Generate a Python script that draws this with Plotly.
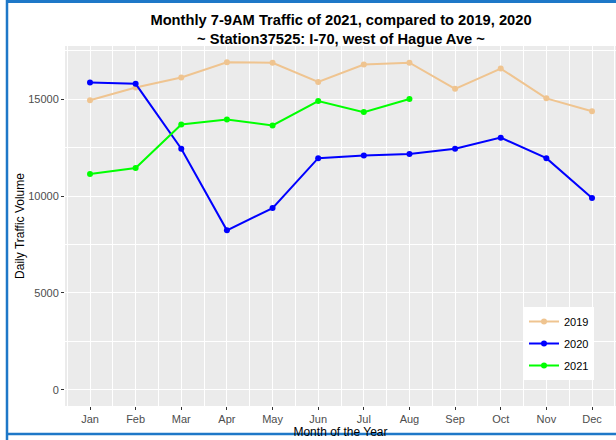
import plotly.graph_objects as go

# Monthly 7-9AM daily traffic volume, station 37525
month_num = list(range(1, 13))
month_labels = ["Jan", "Feb", "Mar", "Apr", "May", "Jun",
                "Jul", "Aug", "Sep", "Oct", "Nov", "Dec"]

vol_2019 = [14950, 15610, 16130, 16910, 16890, 15900,
            16800, 16890, 15540, 16590, 15050, 14380]
vol_2020 = [15870, 15800, 12450, 8230, 9380, 11960,
            12100, 12170, 12450, 13020, 11960, 9900]
vol_2021 = [11140, 11450, 13700, 13960, 13650, 14910,
            14340, 15020]

y_ticks = [0, 5000, 10000, 15000]

series = [
    ("2019", vol_2019, "#EFC490"),
    ("2020", vol_2020, "#0000FF"),
    ("2021", vol_2021, "#00FF00"),
]

fig = go.Figure()
for name, vals, color in series:
    fig.add_trace(go.Scatter(
        x=month_num[:len(vals)], y=vals, name=name, legendgroup=name,
        mode="lines+markers",
        line=dict(color=color, width=2),
        marker=dict(color=color, size=6),
    ))

W, H = 616, 440
ml, mt, mb, mr = 65, 46, 34, 0
pw = W - ml - mr
ph = H - mt - mb

def px(x):
    return (x - ml) / pw

def py(y):
    return (H - mb - y) / ph

border = "#1E78C8"
shapes = [
    dict(type="line", xref="paper", yref="paper",
         x0=px(7), x1=px(7), y0=py(0), y1=py(440),
         line=dict(color=border, width=2.5)),
    dict(type="line", xref="paper", yref="paper",
         x0=px(6), x1=px(616), y0=py(1.5), y1=py(1.5),
         line=dict(color=border, width=3)),
    dict(type="line", xref="paper", yref="paper",
         x0=px(6), x1=px(616), y0=py(434), y1=py(434),
         line=dict(color=border, width=2.5)),
]

fig.update_layout(
    width=W, height=H,
    margin=dict(l=ml, r=mr, t=mt, b=mb),
    paper_bgcolor="white",
    plot_bgcolor="#EBEBEB",
    font=dict(family="Liberation Sans, Arial, sans-serif", color="#000000"),
    title=dict(
        text="<b>Monthly 7-9AM Traffic of 2021, compared to 2019, 2020<br>"
             "~ Station37525: I-70, west of Hague Ave ~</b>",
        xref="container", x=341 / W, xanchor="center",
        yref="container", y=1 - 25 / H, yanchor="middle",
        font=dict(size=14.7, color="#000000"),
    ),
    xaxis=dict(
        range=[0.452, 12.526],
        tickvals=month_num, ticktext=month_labels,
        showgrid=True, gridcolor="white", gridwidth=1.1,
        minor=dict(tick0=0.5, dtick=1, showgrid=True,
                   gridcolor="white", gridwidth=0.5),
        ticks="outside", ticklen=3, tickcolor="#333333",
        tickfont=dict(size=11, color="#4D4D4D"),
        zeroline=False,
        title=dict(text="Month of the Year", font=dict(size=12), standoff=2),
    ),
    yaxis=dict(
        range=[-845, 17755],
        tickvals=y_ticks, ticktext=[str(v) for v in y_ticks],
        showgrid=True, gridcolor="white", gridwidth=1.1,
        minor=dict(tick0=0, dtick=2500, showgrid=True,
                   gridcolor="white", gridwidth=0.5),
        ticks="outside", ticklen=3, tickcolor="#333333",
        tickfont=dict(size=11, color="#4D4D4D"),
        zeroline=False,
        title=dict(text="Daily Traffic Volume", font=dict(size=12), standoff=1),
    ),
    legend=dict(
        x=px(524), y=py(307), xanchor="left", yanchor="top",
        bgcolor="white", font=dict(size=11, color="#000000"),
        traceorder="grouped", tracegroupgap=3, itemwidth=30,
    ),
    shapes=shapes,
)

fig.write_html("out.html")
